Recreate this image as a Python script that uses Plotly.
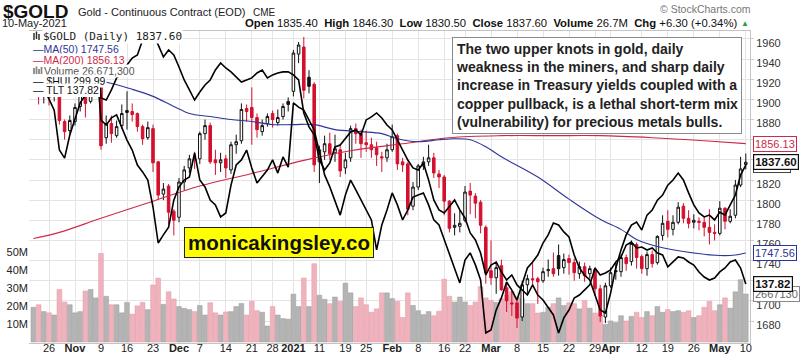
import plotly.graph_objects as go
import pandas as pd

# ---------------- data ----------------
holidays = ["2020-11-26", "2020-12-25", "2021-01-01", "2021-01-18", "2021-02-15", "2021-04-02"]
dates = [d.strftime("%Y-%m-%d") for d in pd.bdate_range("2020-10-21", "2021-05-10")
         if d.strftime("%Y-%m-%d") not in holidays]

open_ = [1907, 1928, 1905,
         1906, 1905, 1908, 1878, 1869, 1878, 1893, 1910, 1898, 1946,
         1955, 1862, 1876, 1864, 1874, 1887, 1888, 1886, 1873, 1862,
         1871, 1838, 1806, 1814, 1789, 1783, 1818, 1832, 1841, 1841,
         1866, 1874, 1840, 1837, 1841, 1830, 1855, 1859, 1891, 1892,
         1882, 1868, 1876, 1886, 1877, 1883, 1898, 1908, 1945, 1952,
         1922, 1915, 1838, 1848, 1856, 1847, 1850, 1832, 1842, 1871,
         1866, 1857, 1855, 1852, 1843, 1842, 1850, 1864, 1838, 1836,
         1794, 1813, 1834, 1838, 1842, 1826, 1823, 1799, 1773, 1774,
         1780, 1809, 1804, 1798, 1773, 1730, 1723, 1735, 1713, 1698,
         1698, 1684, 1716, 1722, 1722, 1720, 1730, 1732, 1745, 1733,
         1742, 1738, 1727, 1734, 1727, 1731, 1712, 1684, 1715, 1730,
         1729, 1743, 1739, 1756, 1744, 1732, 1746, 1738, 1765, 1779,
         1771, 1778, 1794, 1782, 1778, 1779, 1778, 1773, 1768, 1767,
         1792, 1779, 1785, 1815, 1835.4]
high = [1932, 1930, 1915,
        1912, 1915, 1912, 1880, 1884, 1896, 1914, 1912, 1952, 1965,
        1966, 1884, 1884, 1879, 1895, 1908, 1896, 1887, 1875, 1878,
        1875, 1839, 1817, 1816, 1791, 1822, 1834, 1845, 1848, 1868,
        1880, 1877, 1850, 1847, 1845, 1858, 1865, 1896, 1895, 1912,
        1886, 1880, 1886, 1889, 1890, 1896, 1902, 1949, 1957, 1962,
        1929, 1917, 1854, 1864, 1867, 1865, 1856, 1847, 1874, 1876,
        1870, 1869, 1862, 1858, 1848, 1856, 1875, 1866, 1842, 1838,
        1818, 1836, 1843, 1855, 1847, 1830, 1825, 1800, 1787, 1790,
        1814, 1817, 1807, 1800, 1775, 1760, 1739, 1741, 1717, 1710,
        1701, 1720, 1726, 1738, 1724, 1733, 1741, 1748, 1756, 1747,
        1746, 1742, 1739, 1738, 1735, 1733, 1716, 1718, 1733, 1738,
        1746, 1746, 1760, 1758, 1746, 1749, 1750, 1765, 1785, 1790,
        1785, 1798, 1797, 1790, 1786, 1783, 1784, 1791, 1776, 1799,
        1793, 1791, 1820, 1843, 1846.3]
low = [1903, 1895, 1896,
       1894, 1898, 1875, 1860, 1866, 1874, 1888, 1882, 1896, 1935,
       1850, 1856, 1857, 1862, 1871, 1870, 1878, 1868, 1855, 1860,
       1828, 1800, 1800, 1776, 1765, 1778, 1810, 1827, 1831, 1836,
       1860, 1836, 1825, 1828, 1822, 1826, 1846, 1856, 1878, 1855,
       1862, 1864, 1873, 1872, 1874, 1880, 1888, 1903, 1936, 1901,
       1906, 1828, 1817, 1840, 1840, 1838, 1823, 1826, 1838, 1856,
       1842, 1848, 1842, 1834, 1828, 1838, 1848, 1830, 1828, 1785,
       1790, 1810, 1830, 1834, 1822, 1812, 1785, 1768, 1765, 1768,
       1778, 1786, 1782, 1767, 1717, 1716, 1707, 1710, 1689, 1685,
       1673, 1680, 1707, 1715, 1697, 1718, 1724, 1724, 1725, 1727,
       1726, 1720, 1722, 1719, 1722, 1705, 1679, 1678, 1713, 1721,
       1724, 1730, 1735, 1732, 1727, 1725, 1733, 1736, 1760, 1763,
       1765, 1776, 1777, 1772, 1772, 1770, 1764, 1756, 1760, 1765,
       1771, 1777, 1782, 1813, 1830.5]
close = [1929, 1905, 1906,
         1902, 1908, 1879, 1868, 1879, 1892, 1910, 1896, 1946, 1951,
         1854, 1876, 1866, 1873, 1886, 1889, 1885, 1873, 1861, 1872,
         1837, 1805, 1811, 1788, 1780, 1818, 1830, 1841, 1840, 1866,
         1874, 1838, 1837, 1840, 1832, 1855, 1858, 1890, 1888, 1882,
         1870, 1874, 1883, 1880, 1882, 1893, 1895, 1946, 1954, 1909,
         1913, 1835, 1850, 1856, 1846, 1851, 1829, 1840, 1871, 1866,
         1856, 1855, 1850, 1845, 1842, 1850, 1863, 1836, 1835, 1791,
         1813, 1834, 1838, 1842, 1827, 1823, 1799, 1772, 1775, 1777,
         1808, 1805, 1797, 1775, 1728, 1723, 1733, 1711, 1700, 1697,
         1683, 1716, 1722, 1721, 1719, 1729, 1731, 1727, 1732, 1741,
         1738, 1728, 1734, 1725, 1732, 1712, 1685, 1715, 1728, 1729,
         1743, 1737, 1757, 1743, 1732, 1746, 1737, 1764, 1777, 1771,
         1778, 1793, 1782, 1777, 1780, 1778, 1773, 1768, 1767, 1792,
         1779, 1784, 1815, 1831, 1837.6]
prev_close_oct20 = 1908.0

volume_m = [19.3, 20.7, 16.9, 16.2, 15.0, 29.2, 22.2, 20.7, 16.2, 16.9,
            28.3, 29.2, 24.5, 49.2, 25.4, 20.7, 20.7, 16.2, 22.0, 15.5,
            20.1, 22.0, 18.0, 31.7, 35.5, 20.9, 27.9, 23.9, 19.7, 18.7,
            18.0, 16.9, 20.3, 15.0, 21.8, 16.2, 15.0, 16.7, 16.9, 19.7,
            21.4, 15.0, 22.6, 17.4, 16.5, 8.9, 19.7, 15.0, 13.0, 12.7,
            26.6, 19.7, 35.5, 19.7, 43.5, 26.0, 23.7, 21.3, 25.0, 22.6,
            32.7, 27.3, 19.7, 24.5, 20.7, 16.5, 18.4, 27.3, 27.3, 24.1,
            22.6, 13.6, 27.3, 20.3, 17.4, 15.2, 16.9, 14.6, 17.1, 34.9,
            25.4, 22.2, 25.0, 22.2, 20.3, 22.2, 30.8, 24.5, 23.1,
            22.0, 24.0, 26.0, 28.0, 25.0,
            24.1, 21.3, 21.3, 16.1, 16.5, 19.3, 21.3, 24.5, 20.3, 21.8,
            21.3, 18.4, 23.1, 18.8, 16.1, 15.0, 9.8, 11.7, 10.8, 14.6,
            11.7, 14.2, 16.5, 13.6, 16.9, 14.6, 19.7, 16.5, 18.0, 16.9,
            17.4, 16.5, 17.4, 13.6, 14.6, 19.3, 22.6, 17.4, 20.7, 24.5,
            18.8, 27.9, 34.6, 26.6713]

hui = [328.3, 326.7, 325.7, 321.7, 318.3, 305.0, 302.3, 310.0, 315.0, 320.7,
       323.3, 335.0, 336.7, 315.0, 313.3, 315.7, 316.7, 312.7, 308.3, 305.0,
       300.0, 297.7, 295.0, 286.0, 274.0, 276.7, 279.3, 288.3, 292.7, 295.0,
       296.0, 304.0, 295.0, 292.7, 288.3, 286.7, 282.7, 284.0, 293.3, 300.0,
       301.7, 305.0, 299.0, 294.0, 296.0, 298.3, 301.7, 297.3, 302.7, 299.3,
       320.7, 319.3, 318.3, 315.0, 311.7, 304.3, 296.7, 292.7, 288.3, 283.3,
       290.0, 295.0, 291.7, 288.3, 285.0, 281.7, 271.7, 280.0, 285.0, 290.7,
       286.7, 281.7, 285.0, 289.3, 290.0, 290.7, 286.7, 281.7, 280.0, 275.0,
       270.7, 265.0, 260.7, 268.3, 270.7, 266.7, 261.7, 244.0, 245.0, 251.7,
       255.7, 261.0, 258.3, 255.0, 260.0, 265.7, 267.7, 270.0, 274.0, 276.7,
       280.7, 280.0, 277.7, 276.0, 270.0, 265.7, 263.3, 261.7, 256.7, 251.7,
       250.7, 257.3, 265.7, 271.7, 276.7, 280.0, 281.0, 278.3, 283.3, 285.0,
       288.3, 290.0, 293.3, 295.0, 297.3, 295.0, 290.7, 286.7, 284.0, 282.7,
       283.3, 281.7, 284.3, 283.3, 286.7, 290.0, 296.7, 299.99]

tlt = [156.90, 156.32, 156.49, 156.90, 157.32, 157.74, 157.32, 156.65, 156.32, 157.32,
       158.60, 158.75, 157.74, 153.32, 153.15, 153.99, 154.99, 155.40, 156.07, 156.65,
       156.90, 158.15, 158.80, 158.70, 157.74, 156.74, 157.32, 156.90, 155.90, 154.82,
       153.99, 153.15, 153.82, 154.40, 154.82, 155.65, 156.24, 155.82, 155.49, 155.07,
       154.65, 154.82, 154.99, 155.40, 155.65, 154.99, 155.24, 155.40, 155.49, 155.49,
       155.24, 154.82, 152.07, 150.90, 150.24, 148.15, 147.32, 147.90, 149.24, 149.40,
       149.99, 150.49, 150.65, 150.24, 151.49, 151.74, 152.07, 151.65, 151.07, 150.65,
       149.82, 148.99, 148.15, 147.49, 147.32, 147.90, 146.49, 144.82, 143.99, 143.74,
       144.24, 144.82, 143.99, 143.32, 142.07, 141.49, 140.40, 138.57, 139.40, 139.65,
       138.82, 138.15, 138.57, 137.74, 137.32, 136.90, 137.74, 136.90, 136.49, 135.82,
       135.24, 133.74, 134.99, 135.65, 136.65, 136.90, 137.32, 137.74, 139.15, 138.57,
       138.74, 138.99, 139.65, 140.07, 141.07, 141.32, 140.82, 140.90, 140.65, 140.82,
       140.40, 140.24, 139.24, 139.65, 140.07, 139.99, 139.65, 139.40, 138.82, 138.40,
       138.15, 138.32, 138.82, 139.15, 139.65, 139.82, 139.15, 137.82]

ma50_dates = ["2020-10-21", "2020-10-29", "2020-11-10", "2020-11-17", "2020-11-23", "2020-11-30",
              "2020-12-03", "2020-12-09", "2020-12-15", "2020-12-21", "2020-12-28", "2021-01-04",
              "2021-01-08", "2021-01-14", "2021-01-22", "2021-01-28", "2021-02-02", "2021-02-08",
              "2021-02-12", "2021-02-18", "2021-02-23", "2021-02-26", "2021-03-03", "2021-03-12",
              "2021-03-22", "2021-03-30", "2021-04-06", "2021-04-09", "2021-04-15", "2021-04-22",
              "2021-05-03", "2021-05-06", "2021-05-10"]
ma50 = [1924, 1922, 1917, 1910, 1903, 1893, 1886, 1883, 1880, 1878, 1875, 1875,
        1875, 1870, 1868, 1866, 1861, 1858, 1860, 1861, 1860, 1853, 1843, 1823,
        1801, 1781, 1771, 1761, 1754, 1749, 1745, 1745.5, 1747.56]

ma200_dates = ["2020-10-21", "2020-10-28", "2020-11-09", "2020-11-23", "2020-12-07", "2020-12-21",
               "2021-01-06", "2021-01-20", "2021-02-03", "2021-02-17", "2021-03-03", "2021-03-17",
               "2021-03-30", "2021-04-14", "2021-04-28", "2021-05-10"]
ma200 = [1762, 1768, 1782, 1799, 1814, 1826.5, 1839.5, 1849, 1856, 1862, 1864, 1864,
         1864, 1862, 1859, 1856.13]

tick_dates = ["2020-10-26", "2020-11-02", "2020-11-09", "2020-11-16", "2020-11-23", "2020-12-01",
              "2020-12-07", "2020-12-14", "2020-12-21", "2020-12-28", "2021-01-04", "2021-01-11",
              "2021-01-19", "2021-01-25", "2021-02-01", "2021-02-08", "2021-02-16", "2021-02-22",
              "2021-03-01", "2021-03-08", "2021-03-15", "2021-03-22", "2021-03-29", "2021-04-01",
              "2021-04-12", "2021-04-19", "2021-04-26", "2021-05-03", "2021-05-10"]
tick_labels = ["26", "<b>Nov</b>", "9", "16", "23", "<b>Dec</b>", "7", "14", "21", "28", "<b>2021</b>",
               "11", "19", "25", "<b>Feb</b>", "8", "16", "22", "<b>Mar</b>", "8", "15", "22", "29",
               "<b>Apr</b>", "12", "19", "26", "<b>May</b>", "10"]

price_ticks = list(range(1680, 1961, 20))
vol_ticks = [10e6, 20e6, 30e6, 40e6, 50e6]
vol_tick_labels = ["10M", "20M", "30M", "40M", "50M"]

# ---------------- figure ----------------
n = len(dates)
xs = list(range(n))
pos = {d: i for i, d in enumerate(dates)}
prev = [prev_close_oct20] + close[:-1]
up = [i for i in range(n) if close[i] >= prev[i]]
dn = [i for i in range(n) if close[i] < prev[i]]

RED = "#d4102e"
fig = go.Figure()

fig.add_trace(go.Bar(
    x=xs, y=[v * 1e6 for v in volume_m], yaxis="y",
    marker=dict(color=["#f0b3bd" if close[i] < prev[i] else "#b4b4b4" for i in range(n)],
                line=dict(color=["#e39aa7" if close[i] < prev[i] else "#9c9c9c" for i in range(n)], width=0.5)),
    hoverinfo="skip"))

fig.add_trace(go.Scatter(x=[pos[d] for d in ma200_dates], y=ma200, yaxis="y2", mode="lines",
                         line=dict(color="#cc2a4a", width=1.1, shape="spline"), hoverinfo="skip"))
fig.add_trace(go.Scatter(x=[pos[d] for d in ma50_dates], y=ma50, yaxis="y2", mode="lines",
                         line=dict(color="#2f3596", width=1.1, shape="spline"), hoverinfo="skip"))


def candles(idx, color):
    return go.Candlestick(
        x=[xs[i] for i in idx], open=[open_[i] for i in idx], high=[high[i] for i in idx],
        low=[low[i] for i in idx], close=[close[i] for i in idx], yaxis="y2",
        increasing=dict(line=dict(color=color, width=1), fillcolor="white"),
        decreasing=dict(line=dict(color=color, width=1), fillcolor=color),
        whiskerwidth=0, hoverinfo="skip")


fig.add_trace(candles(up, "#111111"))
fig.add_trace(candles(dn, RED))

fig.add_trace(go.Scatter(x=xs, y=hui, yaxis="y3", mode="lines", cliponaxis=True,
                         line=dict(color="black", width=1.6), hoverinfo="skip"))
fig.add_trace(go.Scatter(x=xs, y=tlt, yaxis="y4", mode="lines", cliponaxis=True,
                         line=dict(color="black", width=1.6), hoverinfo="skip"))

# plot area in pixels
L, R, T, B = 29, 750, 31, 343
X0 = 33.4   # pixel of first trading day
DX = 5.2    # pixels per trading day


def PX(x):
    return (x - L) / (R - L)


def PY(y):
    return (B - y) / (B - T)


GRID = "#e4e4e4"
FONT = "Liberation Sans, Arial, sans-serif"
fig.update_layout(
    width=803, height=358, margin=dict(l=L, r=803 - R, t=T, b=358 - B, autoexpand=False),
    paper_bgcolor="white", plot_bgcolor="white", showlegend=False,
    bargap=0.08, font=dict(family=FONT, size=11, color="#222"),
    xaxis=dict(range=[(L - X0) / DX, (R - X0) / DX], tickvals=[pos[d] for d in tick_dates],
               ticktext=tick_labels, showgrid=True, gridcolor=GRID, gridwidth=1, ticks="",
               tickfont=dict(size=11, color="#222"), showline=True, mirror=True,
               linecolor="#c4c4c4", zeroline=False, rangeslider=dict(visible=False), tickangle=0,
               automargin=False, ticklabelstandoff=-5),
    yaxis=dict(range=[-0.56e6, 172.8e6], tickvals=vol_ticks, ticktext=vol_tick_labels,
               showgrid=False, zeroline=False, side="left", ticks="", automargin=False,
               tickfont=dict(size=11, color="#222")),
    yaxis2=dict(overlaying="y", side="right", range=[1658.2, 1967.9], tickvals=price_ticks,
                showgrid=True, gridcolor=GRID, zeroline=False, ticks="outside", ticklen=3,
                tickcolor="#cccccc", tickfont=dict(size=11, color="#333"), automargin=False,
                showline=True, linecolor="#c4c4c4", ticklabelshift=4),
    yaxis3=dict(overlaying="y", range=[240.67, 344.67], visible=False, automargin=False),
    yaxis4=dict(overlaying="y", range=[132.9, 158.9], visible=False, automargin=False),
)

shapes = []
# white legend backdrop (covers the data at the top-left like the original)
shapes.append(dict(type="rect", xref="paper", yref="paper", x0=PX(29.5), x1=PX(100), y0=PY(97),
                   y1=PY(31.5), fillcolor="white", line=dict(width=0), layer="above"))
# legend icons
for bx, by0, by1 in [(34, 33, 40), (36.5, 31.5, 39), (39, 34, 40)]:
    shapes.append(dict(type="line", xref="paper", yref="paper", x0=PX(bx), x1=PX(bx),
                       y0=PY(by1), y1=PY(by0), line=dict(color="#333", width=1.5), layer="above"))
for bx, top in [(34, 68), (36.5, 66), (39, 69), (41.5, 67)]:
    shapes.append(dict(type="rect", xref="paper", yref="paper", x0=PX(bx - 0.9), x1=PX(bx + 0.9),
                       y0=PY(74), y1=PY(top), fillcolor="#888", line=dict(width=0), layer="above"))
fig.update_layout(shapes=shapes)

ann = []


def text(x, y, s, size=11, color="#222", xanchor="left", yanchor="middle", family=FONT, **kw):
    ann.append(dict(x=PX(x), y=PY(y), xref="paper", yref="paper", text=s, showarrow=False,
                    xanchor=xanchor, yanchor=yanchor, font=dict(size=size, color=color, family=family), **kw))


# header
text(2, 11, "<b>$GOLD</b>", size=19, color="#111", borderpad=0)
text(77, 12, "Gold - Continuous Contract (EOD)", size=11, color="#222", borderpad=0)
text(252, 13, "CME", size=10, color="#222", borderpad=0)
text(1, 23, "10-May-2021", size=11, color="#222", borderpad=0)
text(738, 23, "<b>Open</b> 1835.40  <b>High</b> 1846.30  <b>Low</b> 1830.50  <b>Close</b> 1837.60  "
     "<b>Volume</b> 26.7M  <b>Chg</b> +6.30 (+0.34%)",
     size=11.3, color="#111", xanchor="right", borderpad=0)
text(740, 23, "▲", size=8, color="#2a9d3a", borderpad=0)
text(752, 9, "© StockCharts.com", size=10.5, color="#777", xanchor="right", borderpad=0)

# legend rows
text(42, 36.5, "$GOLD (Daily) 1837.60", size=11, color="#222", family="DejaVu Sans Mono",
     bgcolor="white", borderpad=0)
text(32, 48.5, "—MA(50) 1747.56", size=10.5, color="#2f3596", bgcolor="white", borderpad=0)
text(32, 60, "—MA(200) 1856.13", size=10.5, color="#cc2a4a", bgcolor="white", borderpad=0)
text(43, 70.5, "Volume 26,671,300", size=10.5, color="#555", bgcolor="white", borderpad=0)
text(32, 80.5, "— $HUI 299.99", size=10.5, color="#111", bgcolor="white", borderpad=0)
text(32, 90, "— TLT 137.82", size=10.5, color="#111", bgcolor="white", borderpad=0)

# commentary box
text(452, 37, "<b>The two upper knots in gold, daily<br>weakness in the miners, and sharp daily<br>"
     "increase in Treasury yields coupled with a<br>copper pullback, is a lethal short-term mix<br>"
     "(vulnerability) for precious metals bulls.</b>",
     size=14, color="#222", yanchor="top", align="left", bgcolor="white",
     bordercolor="#8a8a8a", borderwidth=1, borderpad=3)

# watermark box
text(279, 242, "<b>monicakingsley.co</b>", size=20.5, color="#111", xanchor="center",
     bgcolor="#ffff00", bordercolor="#222", borderwidth=1, borderpad=3)


# right-hand value tags
def tag(val, yref, s, color, bold=False, border=None):
    ann.append(dict(x=1, xref="paper", y=val, yref=yref, xanchor="left", yanchor="middle",
                    xshift=3, text=("<b>%s</b>" % s) if bold else s, showarrow=False,
                    font=dict(size=11.5 if bold else 11, color=color, family=FONT),
                    bgcolor="white", bordercolor=border or color, borderwidth=1.2 if bold else 1,
                    borderpad=1))


tag(ma200[-1], "y2", "1856.13", "#cc2a4a")
tag(hui[-1], "y3", "299.99", "#111", border="#444")
tag(close[-1], "y2", "1837.60", "#111", bold=True)
tag(ma50[-1], "y2", "1747.56", "#2f3596")
tag(volume_m[-1] * 1e6, "y", "2667130", "#666", border="#888")
tag(tlt[-1], "y4", "137.82", "#111", bold=True)

fig.update_layout(annotations=ann)
fig.write_html("out.html", config={"displayModeBar": False},
               post_script="document.body.style.margin='0';document.body.style.overflow='hidden';")
